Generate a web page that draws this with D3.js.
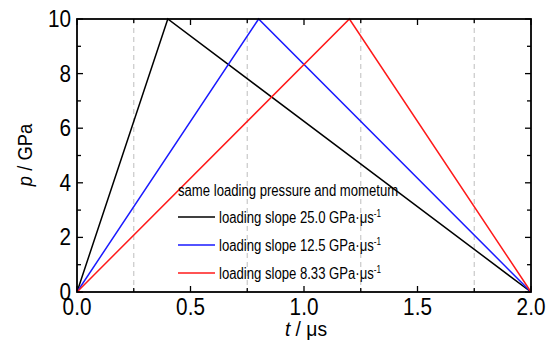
<!DOCTYPE html>
<html>
<head>
<meta charset="utf-8">
<script src="https://cdn.jsdelivr.net/npm/d3@7"></script>
<style>
  body { margin: 0; background: #fff; }
  text { font-family: "Liberation Sans", Arial, sans-serif; }
</style>
</head>
<body>
<div id="chart"></div>
<script>
// loading curves: t (μs) vs p (GPa)
const seriesNames = ["loading slope 25.0", "loading slope 12.5", "loading slope 8.33"];
const seriesColors = ["#000000", "#1a1aff", "#ff1a1a"];
const timeBlack = [0, 0.4, 2.0];
const pressBlack = [0, 10, 0];
const timeBlue = [0, 0.8, 2.0];
const pressBlue = [0, 10, 0];
const timeRed = [0, 1.2, 2.0];
const pressRed = [0, 10, 0];
const xTicks = [0, 0.5, 1.0, 1.5, 2.0];
const yTicks = [0, 2, 4, 6, 8, 10];
const gridLines = [0.25, 0.75, 1.25, 1.75];

const width = 551, height = 343;
const margin = {top: 19, right: 20, bottom: 51, left: 77};

const svg = d3.select('#chart').append('svg')
  .attr('width', width)
  .attr('height', height);

const x = d3.scaleLinear().domain([0, 2]).range([margin.left, width - margin.right]);
const y = d3.scaleLinear().domain([0, 10]).range([height - margin.bottom, margin.top]);

// the original uses a narrow font, squeeze the text horizontally
function narrowText(sel, px, py, sx) {
  return sel.attr('transform', `translate(${px},${py}) scale(${sx},1)`);
}

// dashed grid
svg.append('g').selectAll('line')
  .data(gridLines)
  .join('line')
  .attr('x1', d => x(d)).attr('x2', d => x(d))
  .attr('y1', y(10)).attr('y2', y(0))
  .attr('stroke', '#c8c8c8')
  .attr('stroke-width', 1.2)
  .attr('stroke-dasharray', '5,4');

// inner ticks on all four sides
const xMinor = d3.range(0, 2.01, 0.25);
const yMinor = d3.range(0, 10.01, 1);
const tickG = svg.append('g').attr('stroke', '#000').attr('stroke-width', 1.3);
xMinor.forEach(v => {
  const len = (Math.abs(v * 2 - Math.round(v * 2)) < 1e-6) ? 6 : 4;
  tickG.append('line').attr('x1', x(v)).attr('x2', x(v)).attr('y1', y(0)).attr('y2', y(0) - len);
  tickG.append('line').attr('x1', x(v)).attr('x2', x(v)).attr('y1', y(10)).attr('y2', y(10) + len);
});
yMinor.forEach(v => {
  const len = (v % 2 === 0) ? 6 : 4;
  tickG.append('line').attr('x1', x(0)).attr('x2', x(0) + len).attr('y1', y(v)).attr('y2', y(v));
  tickG.append('line').attr('x1', x(2)).attr('x2', x(2) - len).attr('y1', y(v)).attr('y2', y(v));
});

// series lines
const line = d3.line().x(d => x(d[0])).y(d => y(d[1]));
const series = [
  d3.zip(timeBlack, pressBlack),
  d3.zip(timeBlue, pressBlue),
  d3.zip(timeRed, pressRed)
];
series.forEach((s, i) => {
  svg.append('path')
    .datum(s)
    .attr('fill', 'none')
    .attr('stroke', seriesColors[i])
    .attr('stroke-width', 1.5)
    .attr('d', line);
});

// frame
svg.append('rect')
  .attr('x', x(0)).attr('y', y(10))
  .attr('width', x(2) - x(0)).attr('height', y(0) - y(10))
  .attr('fill', 'none').attr('stroke', '#000').attr('stroke-width', 1.8);

// tick labels
svg.append('g').selectAll('text')
  .data(xTicks)
  .join('text')
  .each(function(d) { narrowText(d3.select(this), x(d), y(0) + 23, 0.9); })
  .attr('text-anchor', 'middle')
  .style('font-size', '23px')
  .text(d => d.toFixed(1));

svg.append('g').selectAll('text')
  .data(yTicks)
  .join('text')
  .each(function(d) { narrowText(d3.select(this), x(0) - 6, y(d) + 8, 0.9); })
  .attr('text-anchor', 'end')
  .style('font-size', '23px')
  .text(d => d);

// axis titles
const yl = svg.append('text')
  .attr('transform', `translate(32, 155) rotate(-90) scale(0.92,1)`)
  .attr('text-anchor', 'middle')
  .style('font-size', '20px');
yl.append('tspan').style('font-style', 'italic').text('p');
yl.append('tspan').text(' / GPa');

const xl = svg.append('text')
  .attr('transform', `translate(306, 336) scale(0.92,1)`)
  .attr('text-anchor', 'middle')
  .style('font-size', '21px');
xl.append('tspan').style('font-style', 'italic').text('t');
xl.append('tspan').text(' / μs');

// legend
const legX = 178;
narrowText(svg.append('text'), legX, 196, 0.82)
  .style('font-size', '16px')
  .text('same loading pressure and mometum');

const legRows = [217, 245, 273];
seriesNames.forEach((name, i) => {
  svg.append('line')
    .attr('x1', legX).attr('x2', legX + 37)
    .attr('y1', legRows[i]).attr('y2', legRows[i])
    .attr('stroke', seriesColors[i]).attr('stroke-width', 1.5);
  const t = narrowText(svg.append('text'), legX + 41, legRows[i] + 6, 0.82)
    .style('font-size', '16px');
  t.append('tspan').text(name + ' GPa·μs');
  t.append('tspan').attr('dy', -6).style('font-size', '10px').text('-1');
});
</script>
</body>
</html>
